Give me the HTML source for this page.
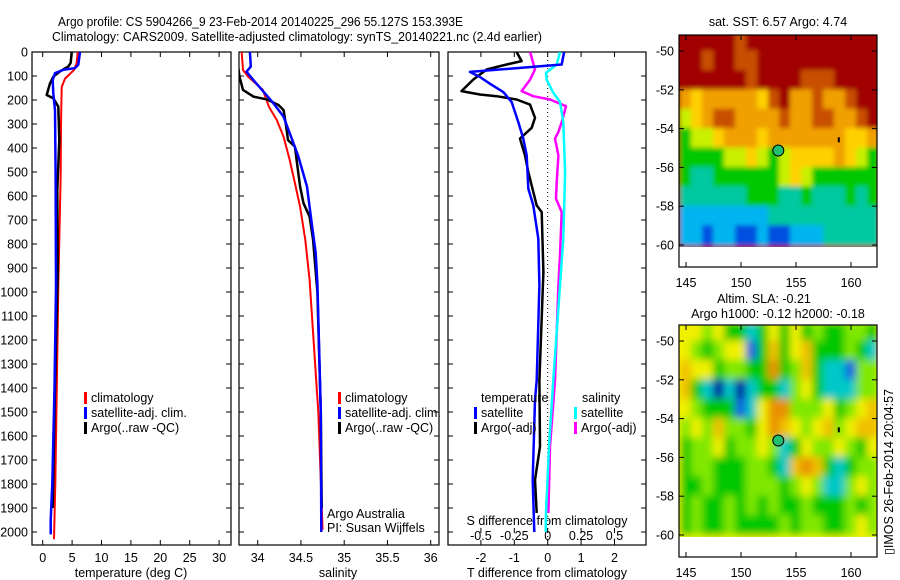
<!DOCTYPE html>
<html><head><meta charset="utf-8"><style>
html,body{margin:0;padding:0;background:#fff}
svg{display:block;font-family:"Liberation Sans",sans-serif}
text{fill:#000}
</style></head><body>
<svg id="chart" width="900" height="580" viewBox="0 0 900 580" xmlns="http://www.w3.org/2000/svg">
<defs>
<filter id="blur" x="0" y="0" width="1" height="1"><feGaussianBlur stdDeviation="4"/></filter>
<filter id="blur2" x="0" y="0" width="1" height="1"><feGaussianBlur stdDeviation="2.5"/></filter>
<clipPath id="c1"><rect x="32" y="52" width="199" height="493"/></clipPath>
<clipPath id="c2"><rect x="239" y="52" width="200" height="493"/></clipPath>
<clipPath id="c3"><rect x="448" y="52" width="198" height="493"/></clipPath>
<clipPath id="m1"><rect x="679" y="35" width="198" height="232"/></clipPath>
<clipPath id="m2"><rect x="679" y="325" width="198" height="232"/></clipPath>
</defs>
<text x="58" y="26" font-size="12.5" textLength="405" lengthAdjust="spacingAndGlyphs">Argo profile: CS 5904266_9 23-Feb-2014 20140225_296 55.127S 153.393E</text>
<text x="52" y="41" font-size="12.5" textLength="490" lengthAdjust="spacingAndGlyphs">Climatology: CARS2009. Satellite-adjusted climatology: synTS_20140221.nc (2.4d earlier)</text>
<g id="root"></g>
</svg>
<script>
// ---------- data ----------
const depthTicks = [0,100,200,300,400,500,600,700,800,900,1000,1100,1200,1300,1400,1500,1600,1700,1800,1900,2000];
const tempTicks = [0,5,10,15,20,25,30];
const salTicks = [34,34.5,35,35.5,36];
const salTickLabels = ["34","34.5","35","35.5","36"];
const tdiffTicks = [-2,-1,0,1,2];
const sdiffTicks = [-0.5,-0.25,0,0.25,0.5];
const sdiffTickLabels = ["-0.5","-0.25","0","0.25","0.5"];

const tClimDepth = [0,45,75,111,146,300,508,783,978,1400,1800,2030];
const tClimVal   = [5.95,5.78,5.32,3.79,3.23,3.11,3.06,2.83,2.65,2.4,2.14,1.92];
const tSatDepth  = [0,53,67,74,88,117,172,242,508,978,1400,1800,1950,2010];
const tSatVal    = [6.34,6.06,5.49,3.51,2.09,1.7,1.8,2.09,2.2,2.26,2.0,1.64,1.36,1.36];
const tArgoDepth = [0,45,60,81,103,131,179,193,228,367,575,922,1400,1900];
const tArgoVal   = [4.93,4.76,4.36,2.94,1.8,1.24,0.68,1.8,2.65,2.83,2.49,2.55,2.1,1.7];

const sClimDepth = [0,75,103,158,228,283,353,450,546,645,783,950,1500,1990];
const sClimVal   = [33.815,33.83,33.89,34.06,34.13,34.22,34.30,34.37,34.43,34.49,34.55,34.60,34.70,34.75];
const sSatDepth  = [0,61,82,117,158,213,270,338,436,561,700,838,963,1500,2000];
const sSatVal    = [33.91,33.92,33.87,33.95,34.05,34.18,34.30,34.37,34.47,34.57,34.62,34.67,34.69,34.73,34.735];
const sArgoDepth = [0,103,158,186,197,221,242,311,367,394,478,561,630,686,783,1000,1500,1900];
const sArgoVal   = [33.75,33.79,33.83,33.95,34.10,34.24,34.30,34.33,34.35,34.43,34.46,34.49,34.53,34.60,34.64,34.69,34.73,34.74];

const dTSatDepth = [0,52,83,104,132,167,208,292,361,431,569,639,778,972,1367,1450,1783,2000];
const dTSatVal   = [0.49,0.42,-2.33,-2.03,-1.73,-1.33,-1.08,-0.88,-0.73,-0.63,-0.58,-0.43,-0.28,-0.25,-0.33,-0.38,-0.45,-0.4];
const dTArgoDepth = [0,38,52,73,115,163,177,184,198,219,274,316,361,431,500,639,667,917,1367,1644,1783,1921];
const dTArgoVal   = [-0.93,-0.78,-1.23,-1.83,-2.23,-2.58,-2.03,-1.53,-0.93,-0.53,-0.38,-0.48,-0.83,-0.68,-0.58,-0.33,-0.18,-0.13,-0.25,-0.23,-0.38,-0.33];
const dSSatDepth = [0,52,87,115,170,208,292,500,778,972,1367,1644,1921,2000];
const dSSatVal   = [0.092,0.067,-0.013,-0.008,0.042,0.092,0.117,0.13,0.117,0.092,0.042,0.01,-0.013,-0.015];
const dSArgoDepth = [0,73,115,163,184,198,226,292,333,361,431,542,611,667,847,972,1367,1644,1921];
const dSArgoVal   = [-0.132,-0.095,-0.132,-0.195,-0.108,0.017,0.137,0.105,0.08,0.055,0.08,0.067,0.062,0.105,0.092,0.08,0.055,0.017,0.005];

const mapLon = [145,146,147,148,149,150,151,152,153,154,155,156,157,158,159,160,161,162];
const mapLat = [-49.5,-50.5,-51.5,-52.5,-53.5,-54.5,-55.5,-56.5,-57.5,-58.5,-59.5];
const sstGrid = [
[9,9,9,9,9,8,9,9,9,9,9,9,9,9,9,9,9,9],
[9,9,8,9,9,8,8,9,9,9,9,9,9,9,9,9,9,9],
[9,9,9,9,9,9,8,9,9,9,9,8,8,8,9,9,9,9],
[7,6,7,7,7,7,7,6,8,9,7,7,8,7,7,8,9,9],
[5,6,7,8,8,7,7,7,7,8,7,7,8,8,7,7,8,9],
[4,5,5,6,7,7,7,6,7,7,7,7,7,7,7,6,6,7],
[4,4,4,4,5,5,6,5,4,5,6,6,6,6,7,6,5,4],
[4,3,3,4,4,4,4,4,4,5,6,5,4,4,4,4,4,4],
[3,3,3,3,3,3,4,4,4,3,3,4,3,3,3,4,3,4],
[2,2,2,2,2,2,2,2,3,3,3,3,3,3,3,3,3,3],
[2,2,1,2,2,1,1,2,1,1,2,2,2,3,3,3,3,3]];
const slaGrid = [
[5,5,4,5,3,3,2,3,5,3,5,3,4,3,3,4,4,3],
[5,4,3,4,5,5,1,3,6,3,5,6,3,3,3,4,3,2],
[6,5,5,3,4,4,3,3,7,3,4,6,3,2,2,1,4,4],
[6,3,2,0,2,0,2,3,3,2,4,5,3,2,2,2,4,4],
[5,4,3,3,3,1,2,5,7,7,4,4,4,5,3,4,5,6],
[4,5,4,6,4,4,3,5,7,6,5,4,5,6,4,5,6,6],
[3,4,4,5,3,4,4,5,4,2,3,5,4,4,5,4,3,5],
[3,4,4,3,3,3,4,4,3,2,6,7,6,3,2,3,4,4],
[3,3,4,3,3,3,4,4,4,3,4,5,4,2,2,4,5,4],
[3,4,3,3,4,3,4,3,4,3,3,4,3,3,3,4,3,4],
[3,4,3,3,4,3,3,3,3,4,3,4,4,3,3,4,5,4]];
const mapLatTicks = [-50,-52,-54,-56,-58,-60];
const mapLonTicks = [145,150,155,160];
const argoLon = 153.39, argoLat = -55.13;

// ---------- helpers ----------
const NS="http://www.w3.org/2000/svg";
const root=document.getElementById('root');
function mk(tag,attrs,parent){const e=document.createElementNS(NS,tag);for(const k in attrs)e.setAttribute(k,attrs[k]);(parent||root).appendChild(e);return e;}
function txt(x,y,s,size,anchor,parent){const t=mk('text',{x:x,y:y,'font-size':size,'text-anchor':anchor||'start'},parent);t.textContent=s;return t;}
const yD = d => 52 + 0.24*d;
const xT = v => 42.7 + 5.88*v;
const xS = v => 257.7 + 86.5*(v-34);
const xDT = v => 547.7 + 33.4*v;
const xDS = v => 547.7 + 133.6*v;
const PT=52, PB=545;

function frame(x0,x1,name){
  const r=mk('rect',{x:x0,y:PT,width:x1-x0,height:PB-PT,fill:'none',stroke:'#000','stroke-width':1.2});
  
  
  depthTicks.forEach(d=>{
    mk('line',{x1:x0,x2:x0+5,y1:yD(d),y2:yD(d),stroke:'#000'});
    mk('line',{x1:x1,x2:x1-5,y1:yD(d),y2:yD(d),stroke:'#000'});
  });
}
function series(xs,depths,vals,color,w,clip,name){
  const pts=depths.map((d,i)=>xs(vals[i]).toFixed(1)+','+yD(d).toFixed(1)).join(' ');
  const p=mk('polyline',{points:pts,fill:'none',stroke:color,'stroke-width':w,'clip-path':'url(#'+clip+')','stroke-linejoin':'round'});
  
  
}
function legend(x,y,color,label,name){
  const g=mk('g',{});
  
  
  mk('rect',{x:x,y:y-10,width:3,height:12,fill:color},g);
  txt(x+7,y,label,12.5,'start',g);
}

// y axis labels
depthTicks.forEach(d=>{const t=txt(28,yD(d)+4.5,String(d),12.5,'end');
  
  });

// panel 1 temperature
frame(32,231,'temperature-panel-frame');
tempTicks.forEach(v=>{mk('line',{x1:xT(v),x2:xT(v),y1:PB,y2:PB-5,stroke:'#000'});mk('line',{x1:xT(v),x2:xT(v),y1:PT,y2:PT+5,stroke:'#000'});
  const t=txt(xT(v),562,String(v),12.5,'middle');
  
  });
txt(131,577,'temperature (deg C)',12.5,'middle');
series(xT,tClimDepth,tClimVal,'#ff0000',2,'c1','temperature-climatology-line');
series(xT,tArgoDepth,tArgoVal,'#000',2.5,'c1','temperature-argo-line');
series(xT,tSatDepth,tSatVal,'#0000ff',2.5,'c1','temperature-satellite-line');
legend(84,402,'#ff0000','climatology','legend-climatology');
legend(84,417,'#0000ff','satellite-adj. clim.','legend-satellite');
legend(84,432,'#000','Argo(..raw -QC)','legend-argo');

// panel 2 salinity
frame(239,439,'salinity-panel-frame');
salTicks.forEach((v,i)=>{mk('line',{x1:xS(v),x2:xS(v),y1:PB,y2:PB-5,stroke:'#000'});mk('line',{x1:xS(v),x2:xS(v),y1:PT,y2:PT+5,stroke:'#000'});
  const t=txt(xS(v),562,salTickLabels[i],12.5,'middle');
  
  });
txt(338,577,'salinity',12.5,'middle');
series(xS,sClimDepth,sClimVal,'#ff0000',2,'c2','salinity-climatology-line');
series(xS,sArgoDepth,sArgoVal,'#000',2.5,'c2','salinity-argo-line');
series(xS,sSatDepth,sSatVal,'#0000ff',2.5,'c2','salinity-satellite-line');
legend(338,402,'#ff0000','climatology','legend-climatology-2');
legend(338,417,'#0000ff','satellite-adj. clim.','legend-satellite-2');
legend(338,432,'#000','Argo(..raw -QC)','legend-argo-2');
txt(327,518,'Argo Australia',12.5);
txt(327,532,'PI: Susan Wijffels',12.5);

// panel 3 differences
frame(448,646,'difference-panel-frame');
mk('line',{x1:xDT(0),x2:xDT(0),y1:PT,y2:PB,stroke:'#000','stroke-dasharray':'1,3'});
tdiffTicks.forEach(v=>{mk('line',{x1:xDT(v),x2:xDT(v),y1:PB,y2:PB-5,stroke:'#000'});mk('line',{x1:xDT(v),x2:xDT(v),y1:PT,y2:PT+5,stroke:'#000'});
  const t=txt(xDT(v),562,String(v),12.5,'middle');
  
  });
sdiffTicks.forEach((v,i)=>{mk('line',{x1:xDS(v),x2:xDS(v),y1:PB-12,y2:PB-17,stroke:'#000'});
  const t=txt(xDS(v),540,sdiffTickLabels[i],12.5,'middle');
  
  });
txt(547,525,'S difference from climatology',12.5,'middle');
txt(547,577,'T difference from climatology',12.5,'middle');
series(xDS,dSArgoDepth,dSArgoVal,'#ff00ff',2.5,'c3','sdiff-argo-line');
series(xDS,dSSatDepth,dSSatVal,'#00ffff',2.5,'c3','sdiff-satellite-line');
series(xDT,dTArgoDepth,dTArgoVal,'#000',2.5,'c3','tdiff-argo-line');
series(xDT,dTSatDepth,dTSatVal,'#0000ff',2.5,'c3','tdiff-satellite-line');
txt(481,402,'temperature',12.5);
legend(474,417,'#0000ff','satellite','legend-tdiff-satellite');
legend(474,432,'#000','Argo(-adj)','legend-tdiff-argo');
txt(582,402,'salinity',12.5);
legend(574,417,'#00ffff','satellite','legend-sdiff-satellite');
legend(574,432,'#ff00ff','Argo(-adj)','legend-sdiff-argo');

// ---------- maps ----------
const sstColors=['#0000a0','#0050e0','#00b4f0','#00c8a0','#00c800','#c8f000','#ffd000','#f0a000','#c85000','#a00000'];
const slaColors=['#0000a0','#1060e0','#00c8c8','#00c800','#80e800','#f0f000','#f0c000','#e89000','#c86000'];
const mx = lon => 686 + 11*(lon-145);
function drawMap(top,grid,colors,clip,filt,name){
  const my = lat => top + 16 + 19.4*(-50-lat);
  const g=mk('g',{'clip-path':'url(#'+clip+')'});
  
  
  const inner=mk('g',{filter:'url(#'+filt+')'},g);
  mk('rect',{x:670,y:top-10,width:220,height:260,fill:colors[grid[0][0]]},inner);
  grid.forEach((row,r)=>row.forEach((v,c)=>{
    const cell=mk('rect',{x:mx(mapLon[c]-0.5)-0.5,y:my(mapLat[r]+0.5)-0.5,width:12,height:20.4,fill:colors[v]},inner);
    
    
  }));
  mk('rect',{x:679,y:my(-60.1),width:198,height:40,fill:'#fff'},g);
  mk('rect',{x:679,y:top,width:198,height:232,fill:'none',stroke:'#000','stroke-width':1.2});
  mapLatTicks.forEach(l=>{mk('line',{x1:679,x2:684,y1:my(l),y2:my(l),stroke:'#000'});mk('line',{x1:877,x2:872,y1:my(l),y2:my(l),stroke:'#000'});
    const t=txt(674,my(l)+4.5,String(l),12.5,'end');
    
    });
  mapLonTicks.forEach(l=>{mk('line',{x1:mx(l),x2:mx(l),y1:top+232,y2:top+227,stroke:'#000'});mk('line',{x1:mx(l),x2:mx(l),y1:top,y2:top+5,stroke:'#000'});
    const t=txt(mx(l),top+252,String(l),12.5,'middle');
    
    });
  const c=mk('circle',{cx:mx(argoLon),cy:my(argoLat),r:5.5,fill:'#20c070',stroke:'#000'});
  
  
  mk('rect',{x:mx(158.8),y:my(-54.45),width:2,height:5,fill:'#000'});
}
drawMap(35,sstGrid,sstColors,'m1','blur2','sst-map');
drawMap(325,slaGrid,slaColors,'m2','blur','sla-map');
txt(778,26,'sat. SST: 6.57 Argo: 4.74',12.5,'middle');
txt(764,303,'Altim. SLA: -0.21',12.5,'middle');
txt(778,318,'Argo h1000: -0.12 h2000: -0.18',12.5,'middle');
const im=txt(0,0,'\u25AFIMOS 26-Feb-2014 20:04:57',12.5,'start');
im.setAttribute('transform','translate(893,555) rotate(-90)');


</script>
</body></html>
